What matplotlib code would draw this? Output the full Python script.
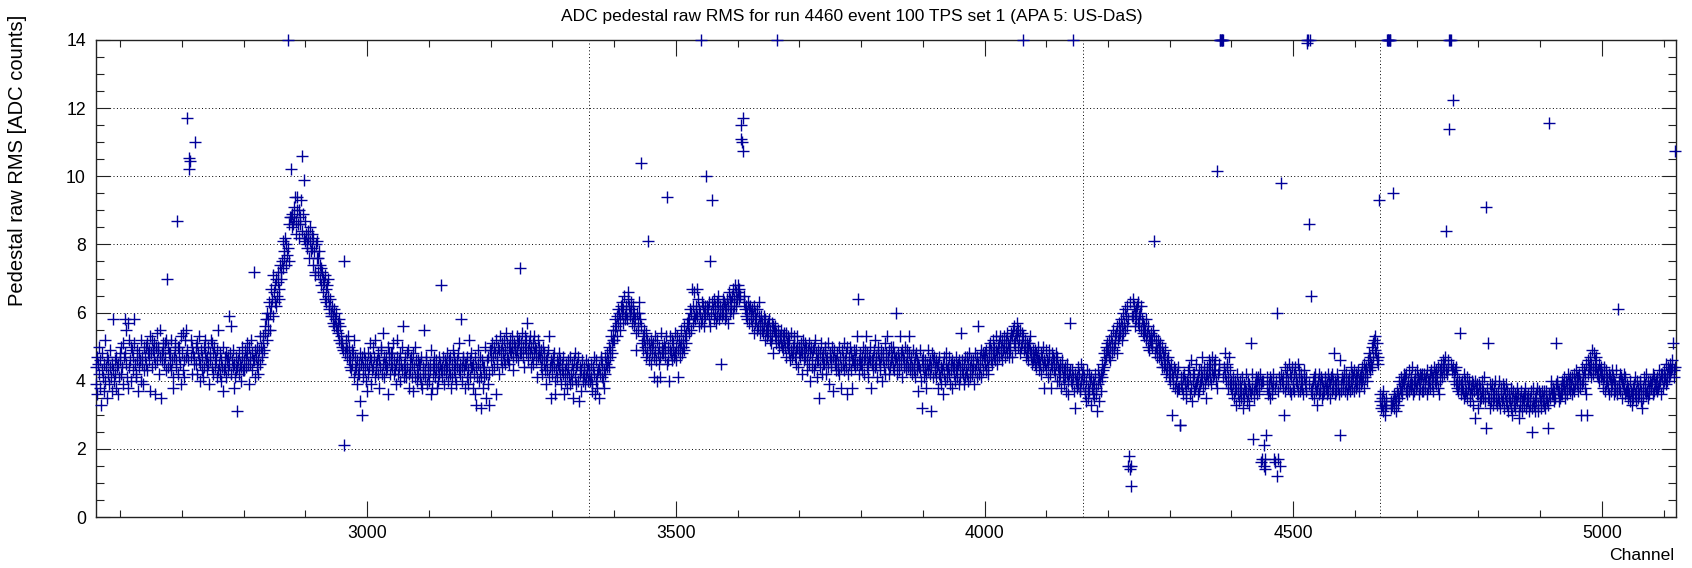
import numpy as np
import matplotlib.pyplot as plt
from matplotlib.ticker import MultipleLocator

plt.rcParams['font.family'] = ['Liberation Sans', 'DejaVu Sans']

first_channel = 2560
last_channel = 5120
# pedestal raw RMS in tenths of ADC counts, two digits per channel, 40 channels per row
rms_rows = [
    "44394736454250384633 43484137455240443547 42463944494137454358 40464238474436454148",
    "46425044395147584855 45413857524446405049 43475158454241464937 48444652404745395043",
    "47504551434849465337 48524449475145365054 46495042475535484651 49455147435270504448",
    "45484352464138474951 44468750425047455339 48544346415255474951 46434944524742504845",
    "47445045425148465340 45494347415044485246 43475045394846525144 48425047444649415543",
    "45424840464450374347 44484146434759454856 42464449384541474344 31464248454044475043",
    "46434947444851453950 45475243484672464149 47445046424953455048 47515349545658526055",
    "58636055676264597166 63686270656972676474 72707581737876827480 77837986758882888589",
    "86918894878390948682 90868893848789828581 87838079848276818578 79837482787172807681",
    "76727874707368727066 69716467636865706261 64605962575961565856 60555754525856535150",
    "51492175485250474953 46504447434945484152 43474439464242453448 45304744414846434037",
    "45424844475146394350 44474152454346484238 46445049424554474145 43474436504846424845",
    "44485142464345394752 42464448404543505641 45434741444849423846 43474145374844504146",
    "43404642454145394738 44425541434647394244 40454349363845424744 41464338444042474543",
    "68444147433946424548 44404643474238454149 43474145394446484351 42455844404746434538",
    "45414743395246414448 44384542473633444149 45404347413246443841 44504235463947423349",
    "46495143475044483652 47455049425346494451 48465245495447514650 45524948535047435149",
    "50475349514652487348 51545047445350485257 49465148534450475145 48535046494152474850",
    "47444946425045484339 46434749415344463545 42474448403643464145 44484246394543474236",
    "43404542384644413947 42454035434648414439 45404734424443374641 40444239464143404542",
    "43404541373944474236 40464238433544424746 41454043384742454448 46445049475351485552",
    "52555856535957616055 58626063576165595862 60586466626059636157 62596056584954605755",
    "60635855565153495552 50475448528146514952 45504851474153494640 52484550414754485049",
    "48515047534594504640 49534852464951475448 50465349415247505155 48525056495354515758",
    "56585461556067576259 66586062675964566160 57616358626056625964 60626158637556609363",
    "61586462605763596562 58626045615964606358 62596164576266606461 63656067646268626664",
    "66686467656970666462 65636159626058636157 62586056615954625760 58615556596354575955",
    "57545956525855535657 54585255515753564855 53565154485255505353 51555053495452504754",
    "51535048524649544750 48515347454950534448 50475149424852464951 47504643495145484050",
    "47444950435245484146 49463548445142474548 45495046424751443947 48464450374749454643",
    "46484345504247443849 45474351464844365042 47455043484638464549 44474953456446424845",
    "45474350464249475344 48454147504638464547 43495244474541485046 45434749404648445142",
    "46485347454249445046 47445043484660474245 48434653454849414744 46504345474944485343",
    "45474244494345414748 46434537444943403246 44474143463842454943 45424631444846414744",
    "43464144384542474139 44434536474240454843 41444742394543463844 42454043474441453946",
    "44415443464239454741 43474245404844414643 42464439484345474156 45424744494146434847",
    "45484349464244504751 46494552484750465349 48455047515348505246 49535047525048545147",
    "50524954475355515652 49545357505552485550 54514953495250475148 46505149534748454946",
    "47454948444746504346 45484247445038464549 43464145474942384548 44474346424845404744",
    "43404542384446414339 44413742454036424357 40433945413732424038 41443942373845404243",
    "39413736403443383542 37404133383640353942 38363143394134403742 41454348444650475149",
    "49475250465351485549 50535154485652575355 54585256605457615559 56625815181463091559",
    "64596260566158625763 59566055625854575356 55525854505653495251 54505255815348525047",
    "49525047514846504448 47444945424643474144 43404530423941443843 40423744383827273941",
    "38413642394037354043 39443641384634404237 42383945403641374339 40434147384244393541",
    "42444046434145394347 41454243464044384245 43474142453946414448 42404544413847433940",
    "38363941353740333842 36393437403538413236 39353842373440363933 37513638422337353941",
    "38403641373942163940 17401521141724384136 39374135403836423917 38164012601737411539",
    "98424038413044374139 43403845374236414438 39423744404139453743 41373942384036434139",
    "37413940383986423765 38364041353942373338 40364239374135403836 37414038363942374035",
    "39413742384048364039 37423840362446393741 40384143373942364038 41393744404238413743",
    "40384241394337404142 39444041384543414440 42464448434745504451 47524953484651474593",
    "34363233353137343032 35333134363038333234 33953436323534313733 36403538413739364042",
    "39413742383640433739 41383944364037424038 43394136404238413742 39374240384136433840",
    "40423843394137414440 42394341384436434045 43414644424547438442 44464143474245434644",
    "42404339443841374039 54393638403735423640 37413538394036343840 36393337402938363932",
    "36393438353740353741 34362691383551353239 37343936333835403436 33373540343236383439",
    "35383236343933373135 36343832353037343336 32353834363129353337 34313536333836323435",
    "34363135333732253438 33353136343833313735 36323437353433373235 37342633363935384036",
    "36383437353951394037 34373538364036393841 37354039364238403741 39364138423740394341",
    "39413742384030443941 40433842364530464244 47434541494442484346 44474243414540434441",
    "42403844413743394140 38423641374039434136 40373943383661384042 37413540394238364137",
    "37393538364034373336 38353941363437403538 36394034373235384137 39364237403538364039",
    "38403642374139384037 41384339404236424138 40434139454240444341 42454346445143414443",
]

# noisy channels (RMS >= 10); values above the frame are drawn at 14
outlier_ch = [2709, 2711, 2712, 2713, 2721, 2871, 2876, 2895, 2898,
              3443, 3541, 3549, 3605, 3606, 3607, 3608, 3609, 3664,
              4062, 4143, 4376, 4381, 4382, 4383, 4384, 4385, 4386,
              4522, 4523, 4524, 4527, 4652, 4653, 4654, 4655, 4656, 4657,
              4752, 4753, 4754, 4755, 4758, 4915, 5119]
outlier_rms = [11.7, 10.55, 10.2, 10.45, 11.0, 14, 10.2, 10.6, 9.9,
               10.4, 14, 10.0, 11.1, 11.5, 11.0, 11.7, 10.75, 14,
               14, 14, 10.15, 14, 14, 14, 14, 14, 14,
               13.9, 14, 14, 14, 14, 14, 14, 14, 14, 14,
               11.4, 14, 14, 14, 12.25, 11.55, 10.75]

# plane boundaries in APA 5 (U | V | Z1 | Z2)
plane_edges = [3360, 4160, 4640]

channels = []
rms = []
for i, row in enumerate(rms_rows):
    codes = row.replace(" ", "")
    for j in range(0, len(codes) - 1, 2):
        channels.append(first_channel + 40 * i + j // 2)
        rms.append(int(codes[j:j + 2]) / 10)
channels = np.array(channels)
rms = np.array(rms)
for ch, val in zip(outlier_ch, outlier_rms):
    rms[channels == ch] = val

W, H = 1692, 568
fig = plt.figure(figsize=(W / 100, H / 100), dpi=100)
ax = fig.add_axes([95.5 / W, (H - 517) / H, (1676 - 95.5) / W, (517 - 40) / H])

ax.plot(channels, rms, linestyle="none", marker="+", markersize=8.5,
        markeredgewidth=1.0, color="#000099", clip_on=False, zorder=3)

for x in plane_edges:
    ax.axvline(x, color="black", linestyle=(0, (1, 2.5)), linewidth=0.7, zorder=1)
for y in range(2, 14, 2):
    ax.axhline(y, color="black", linestyle=(0, (1, 2.5)), linewidth=0.7, zorder=1)

ax.set_xlim(first_channel, last_channel)
ax.set_ylim(0, 14)
ax.xaxis.set_major_locator(MultipleLocator(500))
ax.xaxis.set_minor_locator(MultipleLocator(100))
ax.yaxis.set_major_locator(MultipleLocator(2))
ax.yaxis.set_minor_locator(MultipleLocator(0.5))
ax.tick_params(which="both", direction="in", top=True, right=True,
               width=0.8, color="#222222", labelsize=12.7)
ax.tick_params(axis="x", which="major", length=11.5, pad=6)
ax.tick_params(axis="x", which="minor", length=5.3)
ax.tick_params(axis="y", which="major", length=10, pad=7)
ax.tick_params(axis="y", which="minor", length=5.5)
for s in ax.spines.values():
    s.set_linewidth(1.0)
    s.set_color("#222222")

fig.text(852 / W, 1 - 17 / H,
         "ADC pedestal raw RMS for run 4460 event 100 TPS set 1 (APA 5: US-DaS)",
         ha="center", va="center", fontsize=12.5)
fig.text(1674 / W, 1 - 556 / H, "Channel", ha="right", va="center", fontsize=12.6)
fig.text(18 / W, 1 - 15 / H, "Pedestal raw RMS [ADC counts]", rotation=90,
         ha="center", va="top", fontsize=14.5)

fig.savefig("out.png", dpi=100)
